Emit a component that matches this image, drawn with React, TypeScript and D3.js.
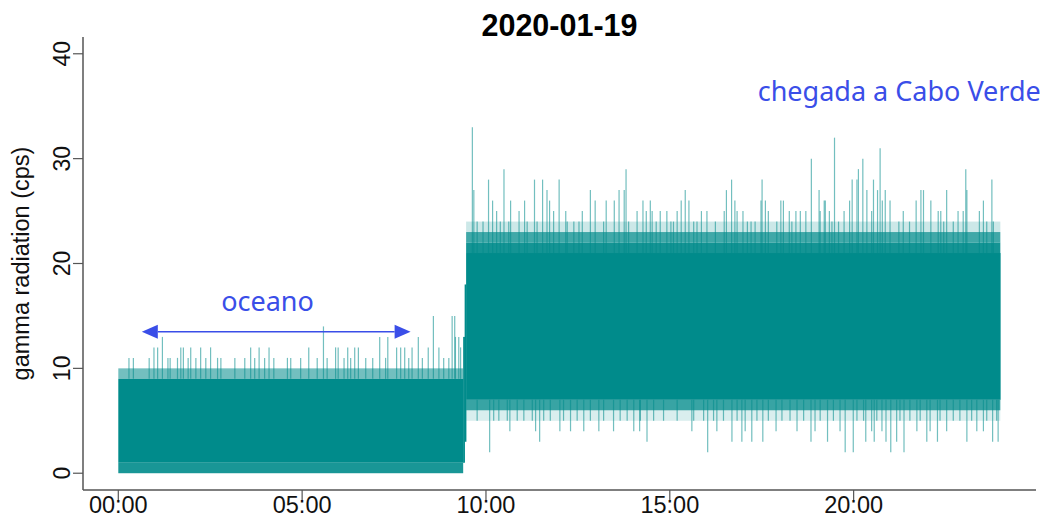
import React from "react";
import * as d3 from "d3";

const WIDTH = 1048;
const HEIGHT = 518;

const TITLE = "2020-01-19";
const Y_LABEL = "gamma radiation (cps)";
const xTickHours = [0, 5, 10, 15, 20];
const xTickLabels = ["00:00", "05:00", "10:00", "15:00", "20:00"];
const yTicks = [0, 10, 20, 30, 40];
const X_DATA_RANGE = [0, 24];
const Y_DATA_RANGE = [0, 40];

// Bulk of the per-second counts: every column covers at least this range
const bandStart = [0, 9.38, 9.42, 9.46];
const bandEnd = [9.38, 9.42, 9.46, 23.99];
const bandLow = [1, 1, 3, 7];
const bandHigh = [9, 13, 18, 21];

// Count levels reached by only part of the columns (share of columns reaching them)
const edgeStart = [0, 0, 9.46, 9.46, 9.46, 9.46, 9.46];
const edgeEnd = [9.38, 9.38, 23.99, 23.99, 23.99, 23.99, 23.99];
const edgeLow = [9, 0, 21, 22, 23, 6, 5];
const edgeHigh = [10, 1, 22, 23, 24, 7, 6];
const edgeShare = [0.55, 0.9, 0.92, 0.75, 0.2, 0.78, 0.15];

// Isolated high counts at sea: [hour, cps]
const oceanPeaks: [number, number][] = [
  [1.2, 13], [0.97, 12], [1.07, 12], [1.7, 12], [1.77, 12], [1.97, 12], [2.24, 12],
  [2.51, 12], [3.6, 12], [3.83, 12], [4.1, 12], [5.18, 12], [5.91, 12], [5.98, 12],
  [6.24, 12], [6.43, 12], [6.53, 12], [7.57, 12], [7.68, 12], [7.79, 12], [7.99, 12],
  [8.43, 12], [8.72, 12], [9.31, 12], [7.11, 13], [7.33, 13], [8.16, 13], [9.17, 13],
  [9.26, 13], [5.58, 14], [8.57, 15], [9.08, 15], [9.15, 15],
  [0.29, 11], [0.41, 11], [0.84, 11], [1.35, 11], [1.41, 11], [1.61, 11], [1.9, 11],
  [2.11, 11], [2.38, 11], [2.7, 11], [2.79, 11], [3.17, 11], [3.44, 11], [3.71, 11],
  [3.98, 11], [4.23, 11], [4.6, 11], [4.69, 11], [4.96, 11], [5.41, 11], [5.68, 11],
  [6.14, 11], [6.32, 11], [6.73, 11], [6.92, 11], [7.27, 11], [7.9, 11], [8.27, 11],
  [8.85, 11], [8.99, 11],
];

// Isolated high counts near Cabo Verde: [hour, cps]
const islandPeaks: [number, number][] = [
  [9.63, 33], [9.67, 27], [10.07, 28], [10.18, 26], [10.29, 25], [10.49, 29], [10.67, 26],
  [10.9, 25], [11.05, 26], [11.32, 28], [11.54, 28], [11.66, 27], [11.73, 26], [11.84, 25],
  [11.99, 28], [12.17, 25], [12.62, 25], [12.84, 27], [12.97, 26], [13.27, 26], [13.49, 26],
  [13.62, 27], [13.76, 27], [13.81, 29], [14.11, 25], [14.27, 26],
  [9.76, 24], [9.92, 24], [10.39, 24], [10.62, 24], [11.12, 24], [11.39, 24], [12.21, 24],
  [12.39, 24], [12.53, 24], [13.2, 24], [13.88, 24],
  [18.85, 30], [16.68, 28], [17.51, 28], [15.42, 27], [16.54, 27], [19.06, 27],
  [14.47, 26], [15.31, 26], [15.52, 26], [16.77, 26], [17.48, 26], [17.6, 26], [18.02, 26],
  [18.09, 26], [19.2, 26],
  [14.36, 25], [14.52, 25], [14.74, 25], [14.92, 25], [15.2, 25], [15.86, 25], [16.01, 25],
  [16.48, 25], [16.83, 25], [16.99, 25], [17.68, 25], [18.25, 25], [18.43, 25], [18.55, 25],
  [18.7, 25], [19.09, 25],
  [14.63, 24], [15.03, 24], [15.1, 24], [15.65, 24], [15.74, 24], [16.24, 24], [17.11, 24],
  [17.21, 24], [17.32, 24], [17.91, 24], [18.32, 24],
  [19.48, 32], [20.72, 31], [20.25, 30], [20.13, 29], [23.05, 29], [19.96, 28], [20.09, 28],
  [20.54, 28], [23.76, 28], [20.36, 27], [20.65, 27], [20.86, 27], [21.83, 27], [21.9, 27],
  [22.53, 27], [23.08, 27], [19.23, 26], [19.89, 26], [20.78, 26], [20.99, 26], [21.7, 26],
  [22.1, 26], [23.53, 26], [19.34, 25], [19.74, 25], [20.49, 25], [21.35, 25], [22.3, 25],
  [22.37, 25], [22.84, 25], [22.98, 25], [23.42, 25], [19.41, 24], [19.59, 24], [21.23, 24],
  [21.52, 24], [22.45, 24], [22.71, 24], [23.62, 24], [23.8, 24],
];

// Isolated low counts near Cabo Verde: [hour, cps]
const islandDips: [number, number][] = [
  [10.1, 2], [16.03, 2], [19.77, 2], [19.99, 2], [21.01, 2], [21.37, 2],
  [11.46, 3], [14.38, 3], [16.69, 3], [16.96, 3], [17.23, 3], [17.53, 3], [18.84, 3],
  [19.29, 3], [20.33, 3], [20.56, 3], [20.88, 3], [21.17, 3], [21.99, 3], [22.28, 3],
  [23.08, 3], [23.78, 3], [23.93, 3],
  [10.65, 4], [11.35, 4], [12.01, 4], [12.3, 4], [12.66, 4], [13.07, 4], [13.47, 4],
  [14.02, 4], [14.18, 4], [15.6, 4], [16.28, 4], [17.05, 4], [17.89, 4], [18.46, 4],
  [18.95, 4], [19.63, 4], [20.49, 4], [20.77, 4], [21.72, 4], [22.08, 4], [22.53, 4],
  [23.35, 4], [23.53, 4],
  [9.76, 5], [10.21, 5], [10.35, 5], [10.58, 5], [10.85, 5], [11.03, 5], [11.26, 5],
  [11.57, 5], [11.75, 5], [12.11, 5], [12.48, 5], [12.84, 5], [13.2, 5], [13.65, 5],
  [13.84, 5], [14.2, 5], [14.56, 5], [14.83, 5], [15.2, 5], [15.65, 5], [15.92, 5],
  [16.19, 5], [16.46, 5], [16.83, 5], [17.37, 5], [17.68, 5], [18.05, 5], [18.27, 5],
  [18.64, 5], [19.09, 5], [19.45, 5], [20.09, 5], [20.27, 5], [20.63, 5], [21.26, 5],
  [21.53, 5], [21.81, 5], [22.35, 5], [22.71, 5], [22.89, 5], [23.21, 5], [23.62, 5],
  [23.89, 5],
];

// Annotations, placed in data units (hours, cps)
const arrowFrom = 0.64;
const arrowTo = 7.95;
const arrowLevel = 13.5;
const oceanLabel = "oceano";
const oceanLabelHour = 4.06;
const oceanLabelLevel = 15.5;
const arrivalLabel = "chegada a Cabo Verde";
const arrivalLabelHour = 25.09;
const arrivalLabelLevel = 35.5;

const TEAL = "#008B8B";
const BLUE = "#3a4ee8";
const AXIS = "#555";
const SANS = "'Liberation Sans', Arial, Helvetica, sans-serif";
const NOTE_FONT = "'Noto Sans', 'Open Sans', sans-serif";

const PLOT = { left: 83, right: 1036, top: 37, bottom: 490 };

function pad(range: number[]) {
  const d = (range[1] - range[0]) * 0.04;
  return [range[0] - d, range[1] + d];
}

function bandAt(h: number) {
  let i = bandStart.findIndex((s, k) => h >= s && h < bandEnd[k]);
  if (i < 0) i = bandStart.length - 1;
  return { low: bandLow[i], high: bandHigh[i] };
}

export default function App() {
  const x = d3.scaleLinear().domain(pad(X_DATA_RANGE)).range([PLOT.left, PLOT.right]);
  const y = d3.scaleLinear().domain(pad(Y_DATA_RANGE)).range([PLOT.bottom, PLOT.top]);

  const head = 16;
  const half = 7;
  const ax0 = x(arrowFrom);
  const ax1 = x(arrowTo);
  const ay = y(arrowLevel);

  return (
    <svg
      width={WIDTH}
      height={HEIGHT}
      style={{ position: "absolute", left: 0, top: 0, background: "#fff" }}
    >
      <rect width={WIDTH} height={HEIGHT} fill="#fff" />

      {/* bulk of counts */}
      {bandStart.map((s, i) => (
        <rect
          key={"b" + i}
          x={x(s)}
          width={x(bandEnd[i]) - x(s) + 0.3}
          y={y(bandHigh[i])}
          height={y(bandLow[i]) - y(bandHigh[i])}
          fill={TEAL}
        />
      ))}

      {/* partially reached levels */}
      {edgeStart.map((s, i) => (
        <rect
          key={"e" + i}
          x={x(s)}
          width={x(edgeEnd[i]) - x(s)}
          y={y(edgeHigh[i])}
          height={y(edgeLow[i]) - y(edgeHigh[i])}
          fill={TEAL}
          opacity={edgeShare[i]}
        />
      ))}

      {/* isolated peaks and dips */}
      {[...oceanPeaks, ...islandPeaks].map(([h, v], i) => (
        <line
          key={"p" + i}
          x1={x(h)}
          x2={x(h)}
          y1={y(bandAt(h).high)}
          y2={y(v)}
          stroke={TEAL}
          strokeWidth={1.2}
          opacity={0.55}
        />
      ))}
      {islandDips.map(([h, v], i) => (
        <line
          key={"d" + i}
          x1={x(h)}
          x2={x(h)}
          y1={y(bandAt(h).low)}
          y2={y(v)}
          stroke={TEAL}
          strokeWidth={1.2}
          opacity={0.55}
        />
      ))}

      {/* axes */}
      <line x1={PLOT.left} x2={PLOT.left} y1={PLOT.top} y2={PLOT.bottom} stroke={AXIS} strokeWidth={1.5} />
      <line x1={PLOT.left} x2={PLOT.right} y1={PLOT.bottom} y2={PLOT.bottom} stroke={AXIS} strokeWidth={1.5} />
      {xTickHours.map((h, i) => (
        <g key={"xt" + i}>
          <line x1={x(h)} x2={x(h)} y1={PLOT.bottom} y2={PLOT.bottom + 10} stroke={AXIS} strokeWidth={1.2} />
          <text x={x(h)} y={513} textAnchor="middle" fontFamily={SANS} fontSize={23.5} fill="#111">
            {xTickLabels[i]}
          </text>
        </g>
      ))}
      {yTicks.map((v, i) => (
        <g key={"yt" + i}>
          <line x1={PLOT.left - 10} x2={PLOT.left} y1={y(v)} y2={y(v)} stroke={AXIS} strokeWidth={1.2} />
          <text
            transform={`translate(70,${y(v)}) rotate(-90)`}
            textAnchor="middle"
            fontFamily={SANS}
            fontSize={23}
            fill="#111"
          >
            {v}
          </text>
        </g>
      ))}
      <text
        transform={`translate(29,${(PLOT.top + PLOT.bottom) / 2}) rotate(-90)`}
        textAnchor="middle"
        fontFamily={SANS}
        fontSize={23.5}
        fill="#111"
      >
        {Y_LABEL}
      </text>
      <text
        x={(PLOT.left + PLOT.right) / 2}
        y={36}
        textAnchor="middle"
        fontFamily={SANS}
        fontWeight="bold"
        fontSize={30.5}
        fill="#000"
      >
        {TITLE}
      </text>

      {/* annotations */}
      <line x1={ax0 + head} x2={ax1 - head} y1={ay} y2={ay} stroke={BLUE} strokeWidth={1.5} />
      <polygon points={`${ax0},${ay} ${ax0 + head},${ay - half} ${ax0 + head},${ay + half}`} fill={BLUE} />
      <polygon points={`${ax1},${ay} ${ax1 - head},${ay - half} ${ax1 - head},${ay + half}`} fill={BLUE} />
      <text x={x(oceanLabelHour)} y={y(oceanLabelLevel)} textAnchor="middle" fontFamily={NOTE_FONT} fontSize={27} fill={BLUE}>
        {oceanLabel}
      </text>
      <text x={x(arrivalLabelHour)} y={y(arrivalLabelLevel)} textAnchor="end" fontFamily={NOTE_FONT} fontSize={27} fill={BLUE}>
        {arrivalLabel}
      </text>
    </svg>
  );
}
